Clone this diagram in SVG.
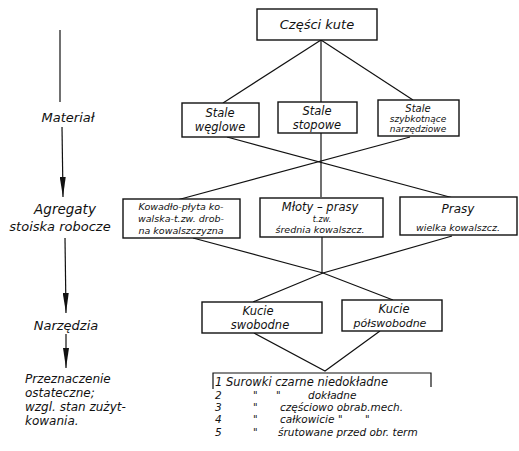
<svg xmlns="http://www.w3.org/2000/svg" width="519" height="451" viewBox="0 0 519 451">
<defs>
<marker id="ah" viewBox="0 0 20 6" refX="20" refY="3" markerWidth="20" markerHeight="6" markerUnits="userSpaceOnUse" orient="auto">
<path d="M0,0 L20,3 L0,6 Z" fill="#111"/>
</marker>
<style>
.t{font-family:"DejaVu Sans","Liberation Sans",sans-serif;font-style:italic;fill:#111;text-anchor:middle}
.l{text-anchor:start}
.b{fill:#fff;stroke:#111;stroke-width:1.4}
.c{stroke:#111;stroke-width:1.2;fill:none}
</style>
</defs>
<rect width="519" height="451" fill="#fff"/>
<g id="connectors">
<line class="c" x1="321" y1="40" x2="223" y2="103"/>
<line class="c" x1="321" y1="40" x2="321" y2="102"/>
<line class="c" x1="321" y1="40" x2="413" y2="100"/>
<line class="c" x1="227" y1="137" x2="457" y2="199"/>
<line class="c" x1="410" y1="137" x2="177" y2="200"/>
<line class="c" x1="321" y1="133" x2="321" y2="197"/>
<polyline class="c" points="193,238 323,273 393,300"/>
<polyline class="c" points="452,236 323,273 253,302"/>
<line class="c" x1="322" y1="237" x2="322" y2="273"/>
<polyline class="c" points="254,333 325,371 380,331"/>
<line class="c" x1="60" y1="30" x2="60" y2="102"/>
<line class="c" x1="62" y1="127" x2="63" y2="197" marker-end="url(#ah)"/>
<line class="c" x1="65" y1="238" x2="66" y2="313" marker-end="url(#ah)"/>
<line class="c" x1="66" y1="334" x2="66" y2="368" marker-end="url(#ah)"/>
</g>
<g id="labels-left">
<text class="t" x="68" y="122" font-size="13">Materiał</text>
<text class="t" x="65" y="214" font-size="13.5">Agregaty</text>
<text class="t" x="60" y="231" font-size="13">stoiska robocze</text>
<text class="t" x="66" y="330" font-size="13">Narzędzia</text>
<text class="t l" x="25" y="383" font-size="12">Przeznaczenie</text>
<text class="t l" x="25" y="397" font-size="12">ostateczne;</text>
<text class="t l" x="25" y="411" font-size="12">wzgl. stan zużyt-</text>
<text class="t l" x="25" y="425" font-size="12">kowania.</text>
</g>
<g id="n-czesci">
<rect class="b" x="257" y="9" width="120" height="31"/>
<text class="t" x="317" y="29" font-size="13">Części kute</text>
</g>
<g id="n-weglowe">
<rect class="b" x="182" y="103" width="77" height="34"/>
<text class="t" x="220" y="117" font-size="11.5">Stale</text>
<text class="t" x="220" y="131" font-size="11.5">węglowe</text>
</g>
<g id="n-stopowe">
<rect class="b" x="278" y="102" width="79" height="31"/>
<text class="t" x="317" y="115" font-size="11.5">Stale</text>
<text class="t" x="317" y="129" font-size="11.5">stopowe</text>
</g>
<g id="n-szybkotnace">
<rect class="b" x="378" y="100" width="81" height="36"/>
<text class="t" x="418" y="112" font-size="10">Stale</text>
<text class="t" x="418" y="122" font-size="9">szybkotnące</text>
<text class="t" x="418" y="132" font-size="9">narzędziowe</text>
</g>
<g id="n-kowadlo">
<rect class="b" x="123" y="199" width="117" height="39"/>
<text class="t" x="181" y="210" font-size="9.5">Kowadło-płyta ko-</text>
<text class="t" x="181" y="222" font-size="9.5">walska-t.zw. drob-</text>
<text class="t" x="181" y="234" font-size="9.5">na kowalszczyzna</text>
</g>
<g id="n-mloty">
<rect class="b" x="260" y="198" width="123" height="39"/>
<text class="t" x="320" y="211" font-size="11.5">Młoty –   prasy</text>
<text class="t" x="322" y="222" font-size="8">t.zw.</text>
<text class="t" x="320" y="233" font-size="9.5">średnia kowalszcz.</text>
</g>
<g id="n-prasy">
<rect class="b" x="400" y="197" width="117" height="38"/>
<text class="t" x="458" y="213" font-size="12">Prasy</text>
<text class="t" x="458" y="231" font-size="9.5">wielka kowalszcz.</text>
</g>
<g id="n-swobodne">
<rect class="b" x="202" y="302" width="120" height="31"/>
<text class="t" x="258" y="315" font-size="11.5">Kucie</text>
<text class="t" x="260" y="329" font-size="11.5">swobodne</text>
</g>
<g id="n-polswobodne">
<rect class="b" x="342" y="300" width="100" height="31"/>
<text class="t" x="394" y="313" font-size="11.5">Kucie</text>
<text class="t" x="390" y="327" font-size="11">półswobodne</text>
</g>
<g id="n-lista">
<path class="c" d="M213,389 V373 H431 V387" stroke-width="1.4"/>
<text class="t l" x="215" y="386" font-size="11.5">1 Surowki czarne niedokładne</text>
<text class="t l" x="215" y="398.5" font-size="10.5">2</text>
<text class="t l" x="253" y="398.5" font-size="10">"</text>
<text class="t l" x="276" y="398.5" font-size="10">"</text>
<text class="t l" x="308" y="398.5" font-size="10.5">dokładne</text>
<text class="t l" x="215" y="411" font-size="10.5">3</text>
<text class="t l" x="253" y="411" font-size="10">"</text>
<text class="t l" x="280" y="411" font-size="10.5">częściowo obrab.mech.</text>
<text class="t l" x="215" y="423" font-size="10.5">4</text>
<text class="t l" x="253" y="423" font-size="10">"</text>
<text class="t l" x="280" y="423" font-size="10.5">całkowicie</text>
<text class="t l" x="338" y="423" font-size="10">"</text>
<text class="t l" x="365" y="423" font-size="10">"</text>
<text class="t l" x="215" y="435.5" font-size="10.5">5</text>
<text class="t l" x="253" y="435.5" font-size="10">"</text>
<text class="t l" x="278" y="435.5" font-size="10.5">śrutowane przed obr. term</text>
</g>
</svg>
